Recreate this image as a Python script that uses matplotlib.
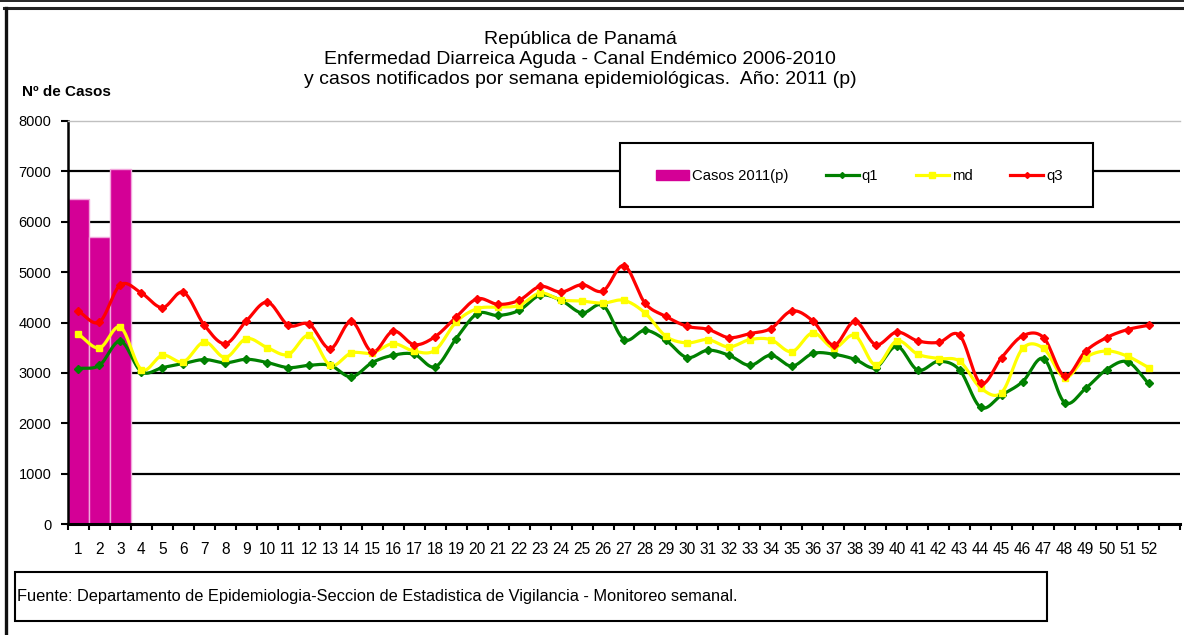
"""Canal endemico EDA Panama 2011 - recreated chart."""

import matplotlib

matplotlib.use("Agg")
import matplotlib.pyplot as plt
import numpy as np
from matplotlib.lines import Line2D
from matplotlib.patches import Patch, Rectangle

plt.rcParams["font.family"] = ["Liberation Sans", "DejaVu Sans"]

W, H = 1184, 635

weeks = list(range(1, 53))
casos_2011 = [6450, 5700, 7050]
q1 = [3085, 3150, 3630, 3020, 3105, 3185, 3265, 3200, 3270, 3205,
      3105, 3150, 3150, 2920, 3205, 3350, 3370, 3120, 3680, 4175,
      4140, 4240, 4540, 4440, 4190, 4340, 3660, 3845, 3645, 3305,
      3450, 3350, 3150, 3350, 3135, 3385, 3370, 3270, 3105, 3530,
      3055, 3230, 3055, 2315, 2560, 2825, 3285, 2410, 2690, 3065,
      3220, 2790]
md = [3765, 3495, 3910, 3065, 3350, 3220, 3615, 3305, 3680, 3500,
      3365, 3745, 3150, 3395, 3395, 3580, 3430, 3450, 4010, 4275,
      4305, 4340, 4585, 4450, 4425, 4385, 4440, 4190, 3725, 3595,
      3660, 3515, 3660, 3660, 3420, 3795, 3495, 3745, 3150, 3635,
      3370, 3285, 3230, 2700, 2610, 3485, 3485, 2905, 3305, 3435,
      3330, 3105]
q3 = [4220, 4010, 4750, 4585, 4295, 4600, 3945, 3580, 4030, 4405,
      3945, 3965, 3480, 4020, 3415, 3830, 3560, 3720, 4110, 4470,
      4360, 4440, 4715, 4605, 4750, 4625, 5130, 4385, 4120, 3925,
      3865, 3700, 3780, 3880, 4230, 4030, 3550, 4020, 3560, 3810,
      3635, 3605, 3745, 2790, 3305, 3735, 3700, 2935, 3430, 3700,
      3860, 3945]

title_lines = [
    "República de Panamá",
    "Enfermedad Diarreica Aguda - Canal Endémico 2006-2010",
    "y casos notificados por semana epidemiológicas.  Año: 2011 (p)",
]
fuente = ("Fuente: Departamento de Epidemiologia-Seccion de Estadistica "
          "de Vigilancia - Monitoreo semanal.")

MAGENTA = "#D40096"


def fx(px):
    return px / W


def fy(py):
    return 1 - py / H


def smooth(x, y, n=12):
    """Excel-like smoothed line (Catmull-Rom through the points)."""
    x = np.asarray(x, float)
    y = np.asarray(y, float)
    p = np.concatenate([[2 * y[0] - y[1]], y, [2 * y[-1] - y[-2]]])
    t = np.linspace(0, 1, n, endpoint=False)
    xs, ys = [], []
    for i in range(len(y) - 1):
        p0, p1, p2, p3 = p[i], p[i + 1], p[i + 2], p[i + 3]
        seg = 0.5 * (2 * p1 + (p2 - p0) * t
                     + (2 * p0 - 5 * p1 + 4 * p2 - p3) * t ** 2
                     + (3 * p1 - p0 - 3 * p2 + p3) * t ** 3)
        xs.append(x[i] + t * (x[i + 1] - x[i]))
        ys.append(seg)
    xs.append([x[-1]])
    ys.append([y[-1]])
    return np.concatenate(xs), np.concatenate(ys)


fig = plt.figure(figsize=(W / 100, H / 100), dpi=100)
ax = fig.add_axes([fx(68), fy(524), fx(1180) - fx(68), fy(121) - fy(524)])

# outer frame pieces (the chart is a crop of a larger sheet)
fig.add_artist(Line2D([0, 1], [fy(0.5), fy(0.5)], color="black", lw=1.2))
fig.add_artist(Line2D([fx(4), 1], [fy(8), fy(8)], color="#222222", lw=2.2))
fig.add_artist(Line2D([fx(5.5), fx(5.5)], [fy(8), 0], color="#111111", lw=2.4))

# bars
ax.bar(weeks[:len(casos_2011)], casos_2011, width=1.0, color=MAGENTA,
       edgecolor="#F2A6DC", linewidth=1.0, zorder=2)

# gridlines
for v in range(1000, 8000, 1000):
    ax.axhline(v, color="black", lw=1.6, zorder=1)

series = [
    (q1, "#008000", "D", 4, "q1"),
    (md, "#FFFF00", "s", 5, "md"),
    (q3, "#FF0000", "D", 4, "q3"),
]
for vals, col, mk, ms, _ in series:
    sx, sy = smooth(weeks, vals)
    ax.plot(sx, sy, color=col, lw=2.3, zorder=3, solid_capstyle="round")
    ax.plot(weeks, vals, ls="none", marker=mk, ms=ms, color=col, zorder=4)

ax.set_xlim(0.5, 53.5)
ax.set_ylim(0, 8000)
ax.set_yticks(range(0, 8001, 1000))
ax.set_xticks(weeks)
ax.set_xticklabels([str(w) for w in weeks])
ax.set_xticks(np.arange(0.5, 54, 1.0), minor=True)
ax.tick_params(axis="x", which="major", length=0, pad=13, labelsize=11.2)
ax.tick_params(axis="x", which="minor", length=4, width=1.5, direction="out")
ax.tick_params(axis="y", length=5, width=1.5, direction="out", pad=7,
               labelsize=10.5)

ax.spines["right"].set_visible(False)
ax.spines["top"].set_color("#C0C0C0")
ax.spines["top"].set_linewidth(1.0)
ax.spines["left"].set_linewidth(1.8)
ax.spines["bottom"].set_linewidth(2.2)

# titles
for line, py in zip(title_lines, [39, 59, 80]):
    fig.text(fx(580), fy(py), line, ha="center", va="center", fontsize=14)
fig.text(fx(22), fy(92), "Nº de Casos", ha="left", va="center",
         fontsize=11, fontweight="bold")

# legend box
fig.add_artist(Rectangle((fx(620), fy(207)), fx(1093) - fx(620),
                         fy(143) - fy(207), transform=fig.transFigure,
                         facecolor="white", edgecolor="black", lw=1.5,
                         zorder=5))
handles = [Patch(facecolor=MAGENTA, edgecolor=MAGENTA)]
for _, col, mk, ms, _lbl in series:
    handles.append(Line2D([], [], color=col, lw=2.3, marker=mk, ms=ms - 1))
labels = ["Casos 2011(p)"] + [s[4] for s in series]
leg = fig.legend(handles, labels, loc="center left",
                 bbox_to_anchor=(fx(656), fy(176)), ncol=4, frameon=False,
                 fontsize=10.7, handlelength=2.2, handletextpad=0.2,
                 columnspacing=2.55, borderpad=0, borderaxespad=0)
leg.set_zorder(6)

# footer box
fig.add_artist(Rectangle((fx(15), fy(621)), fx(1047) - fx(15),
                         fy(572) - fy(621), transform=fig.transFigure,
                         facecolor="white", edgecolor="black", lw=1.5))
fig.text(fx(17), fy(597), fuente, ha="left", va="center", fontsize=11.8)

fig.savefig("out.png", dpi=100)
